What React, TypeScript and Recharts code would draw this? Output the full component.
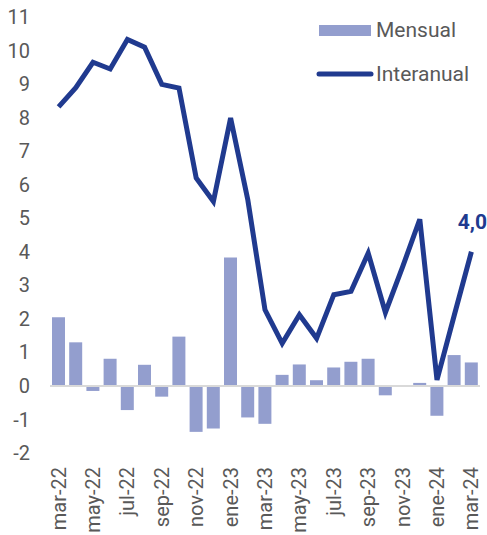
import React from 'react';
import { ComposedChart, Bar, Line, XAxis, YAxis, ReferenceLine, ReferenceDot, Legend } from 'recharts';

const months = ['mar-22','abr-22','may-22','jun-22','jul-22','ago-22','sep-22','oct-22','nov-22','dic-22','ene-23','feb-23','mar-23','abr-23','may-23','jun-23','jul-23','ago-23','sep-23','oct-23','nov-23','dic-23','ene-24','feb-24','mar-24'];
const mensual = [2.05,1.30,-0.15,0.81,-0.72,0.63,-0.32,1.47,-1.37,-1.27,3.83,-0.94,-1.13,0.33,0.64,0.17,0.55,0.72,0.81,-0.28,-0.03,0.09,-0.89,0.92,0.70];
const interanual = [8.32,8.89,9.65,9.45,10.33,10.10,8.99,8.88,6.2,5.5,7.99,5.55,2.27,1.27,2.12,1.42,2.72,2.82,3.96,2.19,3.55,4.97,0.18,2.1,4.0];
const yTicks = [-2,-1,0,1,2,3,4,5,6,7,8,9,10,11];

const data = months.map((m, i) => ({ month: m, mensual: mensual[i], interanual: interanual[i] }));

const BAR = '#939ECE';
const LINE = '#203A8F';
const TXT = '#595959';

const XTick = (props: any) => {
  const { x, y, payload } = props;
  return (
    <text x={x} y={y} transform={`rotate(-90, ${x}, ${y})`} textAnchor="end" dominantBaseline="central" fill={TXT} fontSize={20}>
      {payload.value}
    </text>
  );
};

const LegendContent = () => (
  <svg width={179} height={90}>
    <rect x={11} y={17} width={52} height={11} fill={BAR} />
    <text x={68} y={29} fontSize={21} fill={TXT}>Mensual</text>
    <line x1={11} y1={66} x2={63} y2={66} stroke={LINE} strokeWidth={5} strokeLinecap="round" />
    <text x={68} y={73} fontSize={21} fill={TXT}>Interanual</text>
  </svg>
);

const lastIdx = interanual.length - 1;
const lastLabel = interanual[lastIdx].toFixed(1).replace('.', ',');

const LabelShape = (props: any) => {
  const { cx, cy } = props;
  return (
    <text x={cx + 1} y={cy - 23} textAnchor="middle" fontSize={21} fontWeight="bold" fill={LINE}>
      {lastLabel}
    </text>
  );
};

export default function App() {
  return (
    <div style={{ fontFamily: 'Roboto, sans-serif', position: 'absolute', left: 0, top: 0 }}>
      <ComposedChart width={487} height={535} data={data} margin={{ top: 17, right: 7, bottom: 12, left: 8 }}>
        <XAxis dataKey="month" interval={1} axisLine={false} tickLine={false} tickSize={6} tickMargin={8} height={70} tick={<XTick />} />
        <YAxis domain={[-2, 11]} ticks={yTicks} interval={0} axisLine={false} tickLine={false} width={42} tickMargin={14} tick={{ fill: TXT, fontSize: 20 }} />
        <ReferenceLine y={0} stroke="#D9D9D9" strokeWidth={2} />
        <Legend layout="horizontal" verticalAlign="middle" align="center" wrapperStyle={{ position: 'absolute', left: 308, top: 8, width: 179, height: 90 }} content={<LegendContent />} />
        <Bar dataKey="mensual" name="Mensual" fill={BAR} barSize={13} isAnimationActive={false} />
        <Line dataKey="interanual" name="Interanual" stroke={LINE} strokeWidth={5} dot={false} isAnimationActive={false} />
        <ReferenceDot x={months[lastIdx]} y={interanual[lastIdx]} r={0} ifOverflow="visible" shape={<LabelShape />} />
      </ComposedChart>
    </div>
  );
}
